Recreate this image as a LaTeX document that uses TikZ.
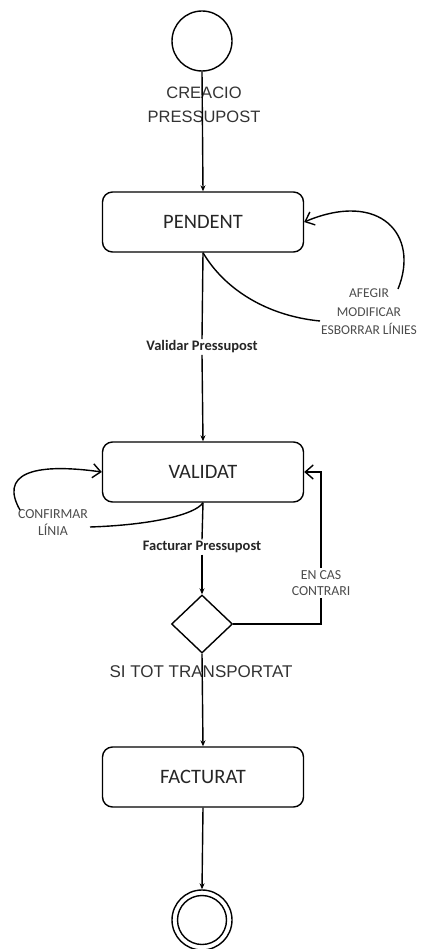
\documentclass[tikz,border=0pt]{standalone}
\usepackage{fontspec}
\setmainfont{Carlito}
\newfontfamily\arialfont{Liberation Sans}
\usetikzlibrary{arrows.meta,shapes.geometric}

\begin{document}
\begin{tikzpicture}[x=1pt,y=-1pt, line width=1.4pt,
  state/.style={draw, rounded corners=10pt, minimum width=201pt, minimum height=60pt,
                font=\fontsize{20.5}{24}\selectfont, text=black!85},
  flow/.style={-{Stealth[length=6pt,width=5pt]}},
  loopflow/.style={-{Straight Barb[length=8pt,width=14pt]}},
  guard/.style={font=\bfseries\fontsize{14.5}{16}\selectfont, fill=white, inner sep=1pt, text=black!85},
  note/.style={font=\fontsize{13.8}{17}\selectfont, text=black!70, align=center, inner sep=1pt}]
\useasboundingbox (0,0) rectangle (421,949);

% initial state and creation label
\node[circle, draw, minimum size=60pt, inner sep=0pt] (start) at (202,41) {};
\node[font=\arialfont\fontsize{16.5}{24}\selectfont, align=center, text=black!80] (creacio) at (204,105) {CREACIO\\PRESSUPOST};

% states
\node[state] (pendent) at (203,222) {PENDENT};
\node[state] (validat) at (203,472) {VALIDAT};
\node[state] (facturat) at (203,777) {FACTURAT};

% decision
\node[diamond, draw, minimum width=61pt, minimum height=58pt, inner sep=0pt] (dec) at (202,624) {};
\node[font=\arialfont\fontsize{17}{20}\selectfont, text=black!80] (tot) at (201,672) {SI TOT TRANSPORTAT};

% final state
\node[circle, draw, minimum size=60pt, inner sep=0pt] (end) at (202,920) {};
\node[circle, draw, minimum size=49pt, inner sep=0pt] (endin) at (end) {};

% guard labels
\node[guard] (validar) at (202,347) {Validar Pressupost};
\node[guard] (facturar) at (202,547) {Facturar Pressupost};

% notes on the self transitions
\node[note, font=\fontsize{13.5}{18.5}\selectfont] (edits) at (369,312) {AFEGIR\\MODIFICAR\\ESBORRAR LÍNIES};
\node[note] (confirm) at (53,523) {CONFIRMAR\\LÍNIA};
\node[note, fill=white, inner sep=2pt, font=\fontsize{13.8}{16}\selectfont] (encas) at (321,583) {EN CAS\\CONTRARI};

\coordinate (editsIn) at (320,321);
\coordinate (editsOut) at (398,289);
\coordinate (confIn) at (90,527);
\coordinate (confOut) at (20,510);

% main flow
\draw[flow] (start.south) -- (pendent.north);
\draw (pendent.south) -- (validar.north);
\draw[flow] (validar.south) -- (validat.north);
\draw (validat.south) -- (facturar.north);
\draw[flow] (facturar.south) -- (dec.north);
\draw[flow] (dec.south) -- (facturat.north);
\draw[flow] (facturat.south) -- (end.north);

% back to VALIDAT when not everything is transported
\draw (dec.east) -| (encas.south);
\draw[loopflow] (encas.north) |- (validat.east);

% self transitions
\draw (pendent.south) .. controls (225,290) and (268,316) .. (editsIn);
\draw[loopflow] (editsOut) .. controls (420,235) and (380,190) .. (pendent.east);
\draw (confIn) .. controls (150,525) and (195,515) .. (validat.south);
\draw[loopflow] (confOut) .. controls (0,475) and (30,462) .. (validat.west);
\end{tikzpicture}
\end{document}
